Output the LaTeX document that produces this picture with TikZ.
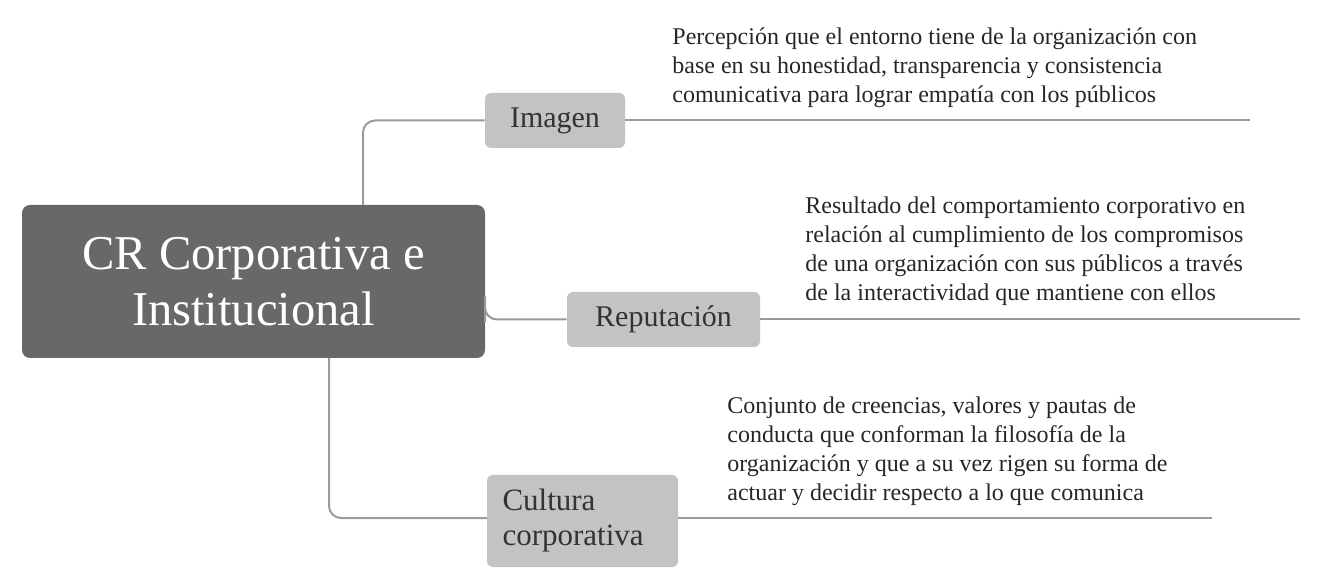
\documentclass[tikz,border=0pt]{standalone}
\usepackage{fontspec}
\setmainfont{Liberation Serif}
\usetikzlibrary{positioning}
\definecolor{darkbox}{HTML}{686868}
\definecolor{lightbox}{HTML}{C3C3C3}
\definecolor{linkgray}{HTML}{9A9A9A}
\tikzset{
	root/.style   = {fill=darkbox, rounded corners=4pt, text=white,
		minimum width=231.5pt, minimum height=76.5pt, align=center,
		font=\fontsize{24.3}{28}\selectfont, inner sep=0pt},
	topic/.style  = {fill=lightbox, rounded corners=3pt, text=black!80,
		minimum height=27.5pt, font=\fontsize{15}{17}\selectfont, inner sep=0pt},
	note/.style   = {anchor=south west, align=left, inner sep=0pt,
		font=\fontsize{12}{14.5}\selectfont, text=black!85},
	link/.style   = {draw=linkgray, line width=1pt, rounded corners=6pt}
}
\begin{document}
\begin{tikzpicture}[x=0.5pt, y=-0.5pt]
	\useasboundingbox (0,0) rectangle (1317,582);
	\node[root] (cr) at (253.5,281.5) {CR Corporativa e\\Institucional};
	\node[topic, minimum width=70pt] (imagen) at (555,120.5) {Imagen};
	\node[topic, minimum width=96.5pt] (reput) at (663.5,319.5) {Reputación};
	\node[topic, minimum width=95.5pt, minimum height=46pt, align=left,
		text width=80pt, font=\fontsize{15.5}{17.5}\selectfont] (cultura) at (582.5,521) {Cultura\\corporativa};
	\coordinate (e1) at (1250,120.5);
	\coordinate (e2) at (1300,319.5);
	\coordinate (e3) at (1212,518);
	% branches
	\draw[link] (363,205) |- (imagen.west);
	\draw[link] (485,296) -- (485,310) |- (reput.west);
	\draw[link] (329,358) |- (487,518);
	\draw[link] (imagen.east) -- (e1);
	\draw[link] (reput.east) -- (e2);
	\draw[link] (678,518) -- (e3);
	% notes
	\node[note] (n1) at (672,108) {Percepción que el entorno tiene de la organización con\\base en su honestidad, transparencia y consistencia\\comunicativa para lograr empatía con los públicos};
	\node[note] (n2) at (805,306) {Resultado del comportamiento corporativo en\\relación al cumplimiento de los compromisos\\de una organización con sus públicos a través\\de la interactividad que mantiene con ellos};
	\node[note] (n3) at (727,506) {Conjunto de creencias, valores y pautas de\\conducta que conforman la filosofía de la\\organización y que a su vez rigen su forma de\\actuar y decidir respecto a lo que comunica};
\end{tikzpicture}
\end{document}
